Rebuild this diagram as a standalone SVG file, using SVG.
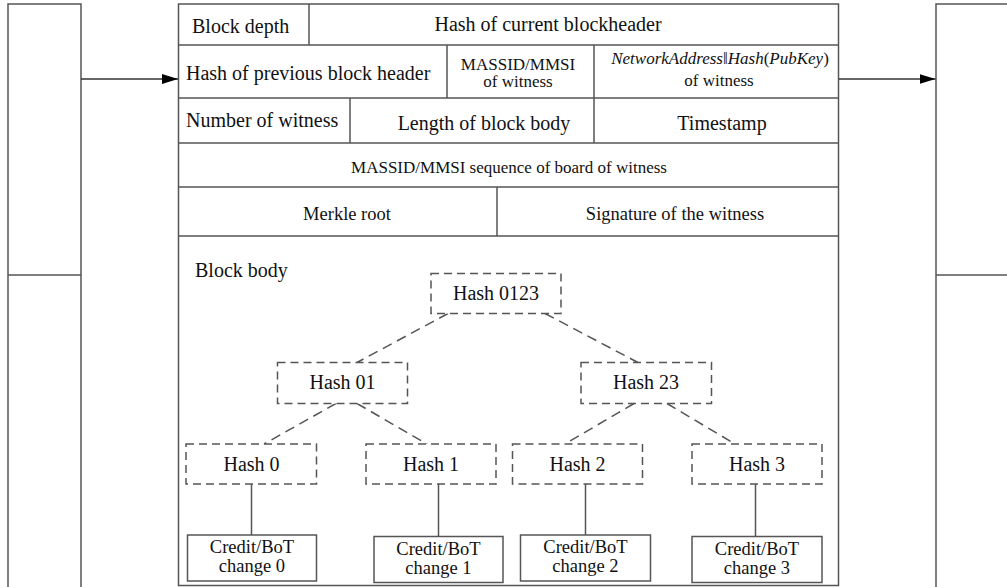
<svg xmlns="http://www.w3.org/2000/svg" width="1007" height="587" viewBox="0 0 1007 587">
  <style>
    .frame { fill: #ffffff; stroke: #555555; stroke-width: 1.5; }
    .rule { stroke: #555555; stroke-width: 1.5; fill: none; }
    .hash { fill: #ffffff; stroke: #555555; stroke-width: 1.5; stroke-dasharray: 8 5; }
    .link { stroke: #555555; stroke-width: 1.5; fill: none; stroke-dasharray: 10 6; }
    .stem { stroke: #555555; stroke-width: 1.5; fill: none; }
    .arrow { stroke: #333333; stroke-width: 1.5; fill: none; }
    text { font-family: 'Liberation Serif', 'DejaVu Serif', serif; fill: #111111; }
    .t20 { font-size: 20px; }
    .t19 { font-size: 18.5px; }
    .t18 { font-size: 18.5px; }
    .t17 { font-size: 17px; }
    .mid { text-anchor: middle; }
  </style>
  <defs>
    <marker id="head" viewBox="0 0 16 10" refX="16" refY="5" markerWidth="16" markerHeight="10" markerUnits="userSpaceOnUse" orient="auto">
      <path d="M0,0 L16,5 L0,10 Z" fill="#000000"/>
    </marker>
  </defs>

  <!-- neighbouring blocks -->
  <g id="prev-block">
    <rect class="frame" x="8" y="4" width="73" height="600"/>
    <line class="rule" x1="8" y1="275" x2="81" y2="275"/>
  </g>
  <g id="next-block">
    <rect class="frame" x="936" y="4" width="100" height="600"/>
    <line class="rule" x1="936" y1="275" x2="1007" y2="275"/>
  </g>

  <!-- block header table -->
  <g id="block">
    <rect class="frame" x="178.5" y="4" width="660" height="581.5"/>
    <line class="rule" x1="178.5" y1="45" x2="838.5" y2="45"/>
    <line class="rule" x1="178.5" y1="98" x2="838.5" y2="98"/>
    <line class="rule" x1="178.5" y1="143" x2="838.5" y2="143"/>
    <line class="rule" x1="178.5" y1="187" x2="838.5" y2="187"/>
    <line class="rule" x1="178.5" y1="236" x2="838.5" y2="236"/>
    <line class="rule" x1="309" y1="4" x2="309" y2="45"/>
    <line class="rule" x1="447" y1="45" x2="447" y2="98"/>
    <line class="rule" x1="594" y1="45" x2="594" y2="143"/>
    <line class="rule" x1="350" y1="98" x2="350" y2="143"/>
    <line class="rule" x1="497" y1="187" x2="497" y2="236"/>
  </g>
  <g id="header-fields">
    <text class="t20" x="192" y="33">Block depth</text>
    <text class="t20 mid" x="548" y="31">Hash of current blockheader</text>
    <text class="t20" x="186" y="80">Hash of previous block header</text>
    <text class="t17 mid" x="518" y="70">MASSID/MMSI</text>
    <text class="t17 mid" x="518" y="87">of witness</text>
    <text class="t17 mid" x="720" y="64"><tspan font-style="italic">NetworkAddress</tspan>‖<tspan font-style="italic">Hash</tspan>(<tspan font-style="italic">PubKey</tspan>)</text>
    <text class="t17 mid" x="719" y="86">of witness</text>
    <text class="t20" x="186" y="127">Number of witness</text>
    <text class="t20 mid" x="484" y="129.5">Length of block body</text>
    <text class="t20 mid" x="722" y="129.5">Timestamp</text>
    <text class="t17 mid" x="509" y="173">MASSID/MMSI sequence of board of witness</text>
    <text class="t18 mid" x="347" y="220">Merkle root</text>
    <text class="t18 mid" x="675" y="220">Signature of the witness</text>
    <text class="t20" x="195" y="277">Block body</text>
  </g>

  <!-- connectors -->
  <g id="connectors">
    <line class="arrow" x1="81" y1="79" x2="178" y2="79" marker-end="url(#head)"/>
    <line class="arrow" x1="839" y1="79" x2="935.5" y2="79" marker-end="url(#head)"/>
    <line class="link" x1="448" y1="313.5" x2="357" y2="362.5"/>
    <line class="link" x1="545" y1="313.5" x2="638" y2="362.5"/>
    <line class="link" x1="336" y1="403.5" x2="264" y2="444"/>
    <line class="link" x1="357" y1="403.5" x2="427" y2="444"/>
    <line class="link" x1="634" y1="403.5" x2="565" y2="444"/>
    <line class="link" x1="667" y1="403.5" x2="735" y2="444"/>
    <line class="stem" x1="251.5" y1="484" x2="251.5" y2="535"/>
    <line class="stem" x1="438.5" y1="484" x2="438.5" y2="536.5"/>
    <line class="stem" x1="585.5" y1="484" x2="585.5" y2="535"/>
    <line class="stem" x1="755.5" y1="484" x2="755.5" y2="536.5"/>
  </g>

  <!-- merkle tree nodes -->
  <g id="hash-0123">
    <rect class="hash" x="431" y="273.5" width="130" height="40"/>
    <text class="t20 mid" x="496" y="300">Hash 0123</text>
  </g>
  <g id="hash-01">
    <rect class="hash" x="277.5" y="362.5" width="130" height="41"/>
    <text class="t20 mid" x="342.5" y="388.5">Hash 01</text>
  </g>
  <g id="hash-23">
    <rect class="hash" x="581" y="362.5" width="130.5" height="41"/>
    <text class="t20 mid" x="646" y="388.5">Hash 23</text>
  </g>
  <g id="hash-0">
    <rect class="hash" x="186" y="444" width="130.5" height="40"/>
    <text class="t20 mid" x="251.5" y="471">Hash 0</text>
  </g>
  <g id="hash-1">
    <rect class="hash" x="366" y="444" width="130" height="40"/>
    <text class="t20 mid" x="431" y="471">Hash 1</text>
  </g>
  <g id="hash-2">
    <rect class="hash" x="512.5" y="444" width="130" height="40"/>
    <text class="t20 mid" x="577.5" y="471">Hash 2</text>
  </g>
  <g id="hash-3">
    <rect class="hash" x="692" y="444" width="130" height="40"/>
    <text class="t20 mid" x="757" y="471">Hash 3</text>
  </g>

  <!-- data leaves -->
  <g id="change-0">
    <rect class="frame" x="187.5" y="535" width="129" height="46"/>
    <text class="t19 mid" x="252" y="553">Credit/BoT</text>
    <text class="t19 mid" x="252" y="572">change 0</text>
  </g>
  <g id="change-1">
    <rect class="frame" x="374" y="536.5" width="129" height="46"/>
    <text class="t19 mid" x="438.5" y="555">Credit/BoT</text>
    <text class="t19 mid" x="438.5" y="574">change 1</text>
  </g>
  <g id="change-2">
    <rect class="frame" x="520.5" y="535" width="130" height="46"/>
    <text class="t19 mid" x="585.5" y="553">Credit/BoT</text>
    <text class="t19 mid" x="585.5" y="572">change 2</text>
  </g>
  <g id="change-3">
    <rect class="frame" x="692" y="536.5" width="130" height="46"/>
    <text class="t19 mid" x="757" y="555">Credit/BoT</text>
    <text class="t19 mid" x="757" y="574">change 3</text>
  </g>
</svg>
